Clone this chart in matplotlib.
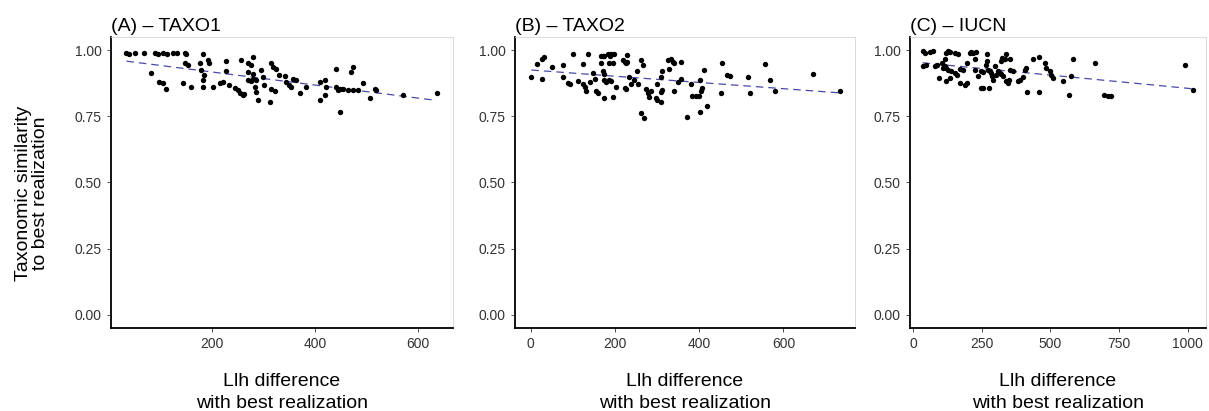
import numpy as np
import matplotlib
matplotlib.use("Agg")
import matplotlib.pyplot as plt

plt.rcParams["font.family"] = ["Liberation Sans", "DejaVu Sans"]

# (A) - TAXO1
taxo1_llh = [34, 38, 50, 69, 89, 95, 105, 112, 124, 133, 147, 150,
             82, 98, 105, 111, 147, 153, 144, 160, 182,
             176, 179, 185, 182, 182, 192, 195, 202, 215, 221, 228, 228,
             234, 244, 250, 254, 260, 262, 257, 270, 276, 280, 270, 280,
             270, 276, 280, 286, 283, 286, 289, 296, 299, 302, 312,
             315, 318, 325, 315, 322, 331, 341, 344, 350, 354, 357, 364,
             370, 383, 409, 419, 409, 419, 422, 441, 441, 445, 448, 454, 464,
             448, 470, 474, 474, 483, 493, 506, 516, 519, 571, 636]
taxo1_sim = [0.99, 0.985, 0.99, 0.99, 0.99, 0.985, 0.99, 0.985, 0.99, 0.99, 0.99, 0.985,
             0.915, 0.88, 0.875, 0.855, 0.95, 0.945, 0.875, 0.86, 0.987,
             0.95, 0.925, 0.905, 0.887, 0.862, 0.962, 0.95, 0.86, 0.877, 0.88, 0.96, 0.922,
             0.868, 0.858, 0.85, 0.84, 0.83, 0.835, 0.962, 0.95, 0.945, 0.975, 0.918, 0.912,
             0.887, 0.885, 0.89, 0.887, 0.86, 0.843, 0.81, 0.925, 0.897, 0.868, 0.805,
             0.95, 0.937, 0.93, 0.855, 0.847, 0.906, 0.902, 0.88, 0.868, 0.862, 0.893, 0.887,
             0.837, 0.86, 0.88, 0.887, 0.81, 0.83, 0.86, 0.93, 0.86, 0.85, 0.855, 0.855, 0.85,
             0.768, 0.918, 0.937, 0.85, 0.85, 0.875, 0.818, 0.855, 0.85, 0.83, 0.837]

# (B) - TAXO2
taxo2_llh = [2, 16, 26, 32, 28, 50, 77, 77, 89, 93,
             101, 112, 124, 124, 128, 132, 136, 140, 148, 152,
             156, 160, 168, 168, 171, 175, 171, 175, 175, 179,
             175, 184, 188, 192, 199, 187, 195, 186, 190, 195,
             203, 219, 223, 227, 230, 230, 223, 227, 234, 238,
             246, 253, 262, 266, 254, 262, 268, 274, 278, 282,
             285, 297, 301, 309, 301, 309, 313, 309, 313, 325,
             329, 333, 337, 341, 341, 349, 356, 356, 372, 380,
             384, 392, 400, 405, 403, 407, 411, 419, 403, 451,
             455, 466, 474, 517, 520, 557, 569, 580, 671, 735]
taxo2_sim = [0.897, 0.947, 0.965, 0.975, 0.893, 0.937, 0.943, 0.897, 0.877, 0.874,
             0.987, 0.884, 0.947, 0.874, 0.86, 0.847, 0.987, 0.879, 0.914, 0.893,
             0.847, 0.84, 0.952, 0.977, 0.98, 0.98, 0.922, 0.909, 0.887, 0.88,
             0.818, 0.987, 0.98, 0.987, 0.987, 0.952, 0.95, 0.889, 0.884, 0.824,
             0.862, 0.962, 0.956, 0.95, 0.956, 0.981, 0.859, 0.852, 0.899, 0.874,
             0.887, 0.922, 0.962, 0.943, 0.874, 0.761, 0.742, 0.852, 0.84, 0.824,
             0.847, 0.818, 0.811, 0.805, 0.874, 0.843, 0.849, 0.899, 0.922, 0.962,
             0.93, 0.965, 0.956, 0.952, 0.847, 0.88, 0.893, 0.956, 0.748, 0.874,
             0.826, 0.826, 0.826, 0.847, 0.887, 0.859, 0.925, 0.789, 0.767, 0.837,
             0.95, 0.906, 0.902, 0.899, 0.839, 0.947, 0.887, 0.847, 0.909, 0.847]

# (C) - IUCN
iucn_llh = [34, 42, 61, 73, 34, 46, 79, 85, 94, 103,
            115, 121, 127, 133, 109, 115, 121, 127, 121, 133,
            139, 152, 158, 152, 164, 170, 182, 170, 188, 194,
            194, 206, 212, 218, 224, 230, 224, 236, 248, 255,
            248, 255, 264, 267, 270, 273, 279, 285, 288, 291,
            276, 297, 303, 309, 315, 321, 327, 321, 324, 329,
            333, 339, 339, 345, 349, 353, 351, 363, 382, 388,
            400, 409, 414, 412, 436, 460, 460, 479, 485, 497,
            503, 509, 545, 567, 576, 582, 661, 697, 709, 721,
            991, 1021]
iucn_sim = [0.996, 0.99, 0.994, 0.996, 0.94, 0.946, 0.94, 0.946, 0.895, 0.952,
            0.965, 0.99, 0.996, 0.992, 0.933, 0.94, 0.933, 0.927, 0.883, 0.895,
            0.92, 0.914, 0.908, 0.99, 0.984, 0.929, 0.927, 0.876, 0.87, 0.876,
            0.952, 0.99, 0.992, 0.99, 0.965, 0.992, 0.927, 0.902, 0.92, 0.917,
            0.857, 0.857, 0.946, 0.958, 0.984, 0.927, 0.92, 0.914, 0.902, 0.889,
            0.857, 0.94, 0.908, 0.92, 0.914, 0.912, 0.902, 0.958, 0.971, 0.967,
            0.965, 0.984, 0.883, 0.876, 0.889, 0.965, 0.927, 0.92, 0.883, 0.889,
            0.899, 0.927, 0.841, 0.933, 0.965, 0.975, 0.841, 0.952, 0.933, 0.92,
            0.908, 0.895, 0.883, 0.832, 0.902, 0.967, 0.952, 0.829, 0.826, 0.826,
            0.946, 0.849]

panels = [
    ("(A) – TAXO1", taxo1_llh, taxo1_sim, (4, 668), [200, 400, 600]),
    ("(B) – TAXO2", taxo2_llh, taxo2_sim, (-37, 770), [0, 200, 400, 600]),
    ("(C) – IUCN", iucn_llh, iucn_sim, (-12, 1067), [0, 250, 500, 750, 1000]),
]
# axes boxes in figure pixels: left, right
boxes = [(111, 453), (515, 855), (910, 1206)]

W, H = 1209, 411
fig = plt.figure(figsize=(W / 100, H / 100), dpi=100)

for (title, x, y, xlim, xticks), (l, r) in zip(panels, boxes):
    ax = fig.add_axes([l / W, (H - 328) / H, (r - l) / W, (328 - 37) / H])
    x = np.array(x, dtype=float)
    y = np.array(y, dtype=float)
    ax.scatter(x, y, s=15, color="black", linewidths=0, zorder=3)

    # linear fit, dashed
    k, b = np.polyfit(x, y, 1)
    xs = np.array([x.min(), x.max()])
    ax.plot(xs, k * xs + b, color="#4a4aa8", lw=0.9, ls=(0, (6, 4)), zorder=2)

    ax.set_xlim(*xlim)
    ax.set_ylim(-0.05, 1.05)
    ax.set_xticks(xticks)
    ax.set_yticks([0, 0.25, 0.5, 0.75, 1.0])
    ax.set_yticklabels(["0.00", "0.25", "0.50", "0.75", "1.00"])
    ax.tick_params(labelsize=10, colors="#333333", length=3, width=0.6)

    for s in ["left", "bottom"]:
        ax.spines[s].set_color("black")
        ax.spines[s].set_linewidth(1.3)
    for s in ["top", "right"]:
        ax.spines[s].set_color("#d6d6d6")
        ax.spines[s].set_linewidth(0.6)

    ax.set_title(title, loc="left", fontsize=14, pad=4)
    fig.text((l + r) / 2 / W, 1 - 381 / H, "Llh difference", ha="center", va="center", fontsize=14)
    fig.text((l + r) / 2 / W, 1 - 403 / H, "with best realization", ha="center", va="center", fontsize=14)

fig.text(32 / W, 1 - 193 / H, "Taxonomic similarity\nto best realization", rotation=90,
         ha="center", va="center", fontsize=14, linespacing=1.0)

fig.savefig("out.png", dpi=100)
